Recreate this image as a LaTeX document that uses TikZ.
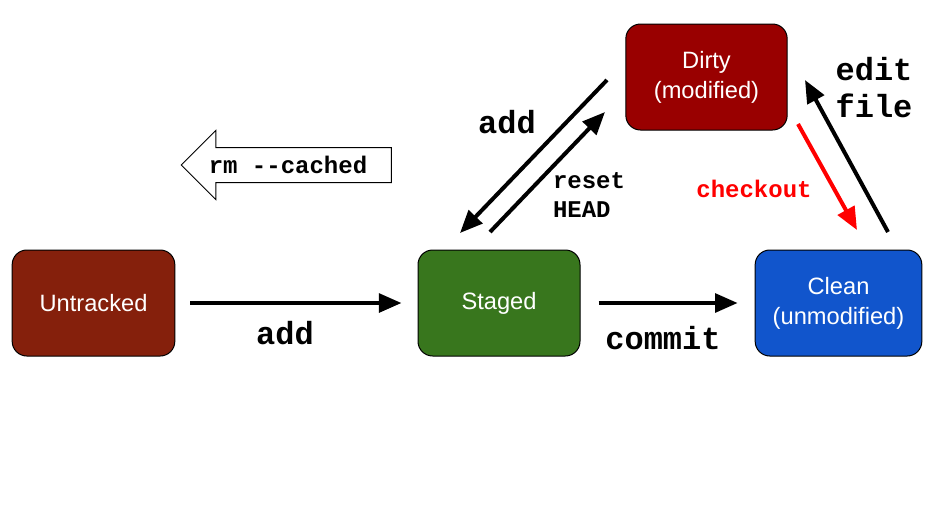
\documentclass[tikz,border=0pt]{standalone}
\usepackage{fontspec}
\setmainfont{Liberation Sans}
\setmonofont{Liberation Mono}
\usetikzlibrary{arrows.meta}
\usetikzlibrary{shapes.arrows}
\definecolor{untrackedred}{HTML}{85200C}
\definecolor{stagedgreen}{HTML}{38761D}
\definecolor{cleanblue}{HTML}{1155CC}
\definecolor{dirtyred}{HTML}{990000}

\begin{document}
\begin{tikzpicture}[x=0.75pt,y=-0.75pt]
\tikzset{state/.style = {shape=rectangle, rounded corners=11pt, draw=black, line width=0.75pt, text=white, minimum height=79.5pt, align=center, font=\fontsize{17.75}{22.5}\selectfont}}
\tikzset{edge/.style = {-{Triangle[length=17pt,width=14pt]}, line width=3pt}}
\tikzset{cmd/.style = {font=\fontsize{24}{27.75}\selectfont\ttfamily\bfseries, align=left}}
\tikzset{smallcmd/.style = {font=\fontsize{18}{21.75}\selectfont\ttfamily\bfseries, align=left}}
\useasboundingbox (0,0) rectangle (942,512);
\node[state, fill=untrackedred, minimum width=122pt](untracked) at (93.5, 303) {Untracked};
\node[state, fill=stagedgreen, minimum width=121.5pt](staged) at (499, 303) {Staged};
\node[state, fill=cleanblue, minimum width=125pt](clean) at (838.5, 303) {Clean\\(unmodified)};
\node[state, fill=dirtyred, minimum width=121pt](dirty) at (706.5, 77) {Dirty\\(modified)};
\node[single arrow, draw=black, line width=0.75pt, shape border rotate=180, minimum height=157.5pt, single arrow head extend=12.75pt, text height=12pt, text depth=0pt, inner ysep=6.75pt, smallcmd](rmcached) at (295, 165) {\hspace*{-10.5pt}rm --cached};
\coordinate (addfrom) at (607, 80);
\coordinate (addto) at (460, 233);
\coordinate (resetfrom) at (490, 232);
\coordinate (resetto) at (605, 112);
\coordinate (checkoutfrom) at (798, 124);
\coordinate (checkoutto) at (857, 230);
\coordinate (editfrom) at (888, 232);
\coordinate (editto) at (805, 80);
\draw[edge, shorten <=11pt, shorten >=12pt] (untracked.east) -- (staged.west);
\draw[edge, shorten <=13.5pt, shorten >=12.75pt] (staged.east) -- (clean.west);
\draw[edge] (addfrom) -- (addto);
\draw[edge] (resetfrom) -- (resetto);
\draw[edge, red] (checkoutfrom) -- (checkoutto);
\draw[edge] (editfrom) -- (editto);
\node[cmd](addbottom) at (285, 333) {add};
\node[cmd](commitlabel) at (663, 338) {commit};
\node[cmd](addlabel) at (507, 122) {add};
\node[smallcmd](resetlabel) at (589, 195) {reset\\HEAD};
\node[smallcmd, text=red](checkoutlabel) at (754, 189) {checkout};
\node[cmd](editlabel) at (874, 88) {edit\\file};
\end{tikzpicture}
\end{document}
